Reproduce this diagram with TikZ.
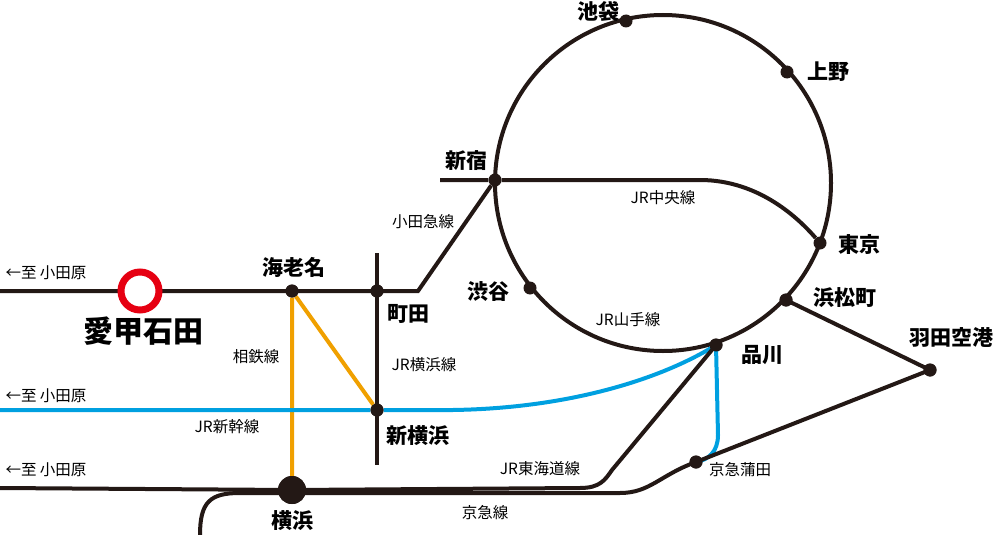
\documentclass[tikz,border=0pt]{standalone}
\usepackage{fontspec}
\setmainfont{Noto Sans CJK JP}
\usetikzlibrary{positioning}
\definecolor{rail}{HTML}{231815}
\definecolor{sky}{HTML}{00A0E0}
\definecolor{ora}{HTML}{F0A000}
\definecolor{aired}{HTML}{E60012}
\tikzset{
  line/.style={draw=rail,line width=4pt},
  stn/.style={circle,fill=rail,inner sep=0pt,minimum size=13pt},
  sname/.style={font=\fontsize{21}{21}\selectfont\bfseries},
  lname/.style={font=\fontsize{15.5}{16}\selectfont},
}
\begin{document}
\begin{tikzpicture}[x=1pt,y=-1pt]
  \useasboundingbox (0,0) rectangle (993,535);
  % Yamanote
  \draw[line] (663,183) circle (168);
  % stations
  \node[stn] (ikeb) at (626,21) {};
  \node[stn] (ueno) at (787,72) {};
  \node[stn] (shinj) at (495,180) {};
  \node[stn] (tokyo) at (820,243) {};
  \node[stn] (shibu) at (530,288) {};
  \node[stn] (hama) at (786,300) {};
  \node[stn] (shinag) at (716,345) {};
  \node[stn] (haneda) at (930,370) {};
  \node[stn] (ebina) at (292,291) {};
  \node[stn] (machi) at (377,291) {};
  \node[stn] (shinyo) at (377,410) {};
  \node[stn] (kamata) at (696,462) {};
  \node[circle,fill=rail,inner sep=0pt,minimum size=28pt] (yoko) at (292,490) {};
  \coordinate (chuoW) at (440,180);
  \coordinate (odaW) at (0,291);
  \coordinate (odaK) at (418,291);
  \coordinate (shinkW) at (0,410);
  \coordinate (tokaW) at (0,488);
  \coordinate (keiS) at (200,535);
  \coordinate (ykT) at (377,253);
  \coordinate (ykB) at (377,465);
  % Chuo
  \draw[line] (chuoW) -- (shinj) -- (700,180) .. controls (760,180) and (800,220) .. (tokyo);
  % Odakyu
  \draw[line] (odaW) -- (odaK) -- (shinj);
  % Yokohama line
  \draw[line] (ykT) -- (ykB);
  % Sotetsu
  \draw[draw=ora,line width=4pt] (ebina) -- (yoko.center) (ebina) -- (shinyo);
  % Shinkansen
  \draw[draw=sky,line width=4pt] (shinkW) -- (shinyo) -- (430,410) .. controls (560,412) and (660,380) .. (shinag.center);
  \draw[draw=sky,line width=4pt] (shinag.center) -- (718,435) .. controls (718,452) and (708,460) .. (kamata.center);
  % Tokaido
  \draw[line] (tokaW) -- (yoko) -- (580,488) .. controls (600,488) and (605,480) .. (612,470) -- (shinag.center);
  % Keikyu
  \draw[line] (keiS) .. controls (200,502) and (210,493) .. (240,493) -- (620,493) .. controls (650,493) and (660,475) .. (kamata.center) -- (haneda.center) -- (hama.center);
  % redraw station dots on top
  \foreach \s in {shinag,kamata,ebina,shinyo,machi,hama,haneda} \fill[rail] (\s) circle (6.5);
  \fill[rail] (yoko) circle (14);
  % airport
  \node[circle,draw=aired,line width=7pt,fill=white,minimum size=38pt,inner sep=0pt] (airport) at (140,291) {};
  % station names
  \node[sname] at (598,12) {池袋};
  \node[sname] at (828,72) {上野};
  \node[sname] at (466,161) {新宿};
  \node[sname] at (859,245) {東京};
  \node[sname] at (488,292) {渋谷};
  \node[sname] at (845,298) {浜松町};
  \node[sname] at (762,355) {品川};
  \node[sname] at (951,338) {羽田空港};
  \node[sname] at (294,267) {海老名};
  \node[sname] at (408,314) {町田};
  \node[sname] at (418,436) {新横浜};
  \node[sname] at (292,521) {横浜};
  \node[font=\fontsize{30}{30}\selectfont\bfseries] at (143,331) {愛甲石田};
  % line names
  \node[lname] at (663,198) {JR中央線};
  \node[lname] at (423,222) {小田急線};
  \node[lname] at (424,365) {JR横浜線};
  \node[lname] at (256,357) {相鉄線};
  \node[lname] at (628,320) {JR山手線};
  \node[lname] at (227,427) {JR新幹線};
  \node[lname] at (540,469) {JR東海道線};
  \node[lname] at (740,470) {京急蒲田};
  \node[lname] at (485,513) {京急線};
  \node[lname] at (46,273) {←至\ 小田原};
  \node[lname] at (46,396) {←至\ 小田原};
  \node[lname] at (46,470) {←至\ 小田原};
\end{tikzpicture}
\end{document}
